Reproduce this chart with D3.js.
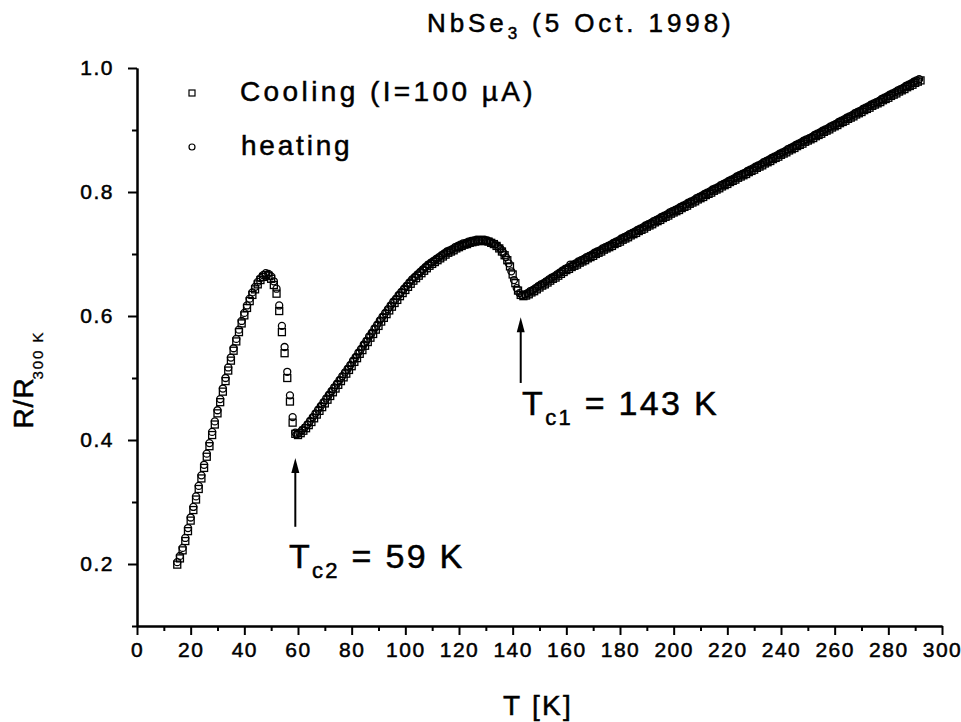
<!DOCTYPE html>
<html>
<head>
<meta charset="utf-8">
<script src="https://cdn.jsdelivr.net/npm/d3@7"></script>
<style>
  body { margin: 0; background: #fff; }
  svg text { font-family: 'Liberation Sans', Arial, sans-serif; fill: #000; stroke: #000; stroke-width: 0.5px; }
</style>
</head>
<body>
<svg id="chart" width="961" height="722"></svg>
<script>
// Cooling run temperatures (K)
const coolingT = [
  15,16,17,18,19,20,21,22,23,24, 25,26,27,28,29,30,31,32,33,34,
  35,36,37,38,39,40,41,42,43,44, 45,46,47,48,49,50,51,52,53,54,
  55,56,57,58,59,60,61,62,63,64, 65,66,67,68,69,70,71,72,73,74,
  75,76,77,78,79,80,81,82,83,84, 85,86,87,88,89,90,91,92,93,94,
  95,96,97,98,99,100,101,102,103,104, 105,106,107,108,109,110,111,112,113,114,
  115,116,117,118,119,120,121,122,123,124, 125,126,127,128,129,130,131,132,133,134,
  135,136,137,138,139,140,141,142,143,144, 145,146,147,148,149,150,151,152,153,154,
  155,156,157,158,159,160,161,162,163,164, 165,166,167,168,169,170,171,172,173,174,
  175,176,177,178,179,180,181,182,183,184, 185,186,187,188,189,190,191,192,193,194,
  195,196,197,198,199,200,201,202,203,204, 205,206,207,208,209,210,211,212,213,214,
  215,216,217,218,219,220,221,222,223,224, 225,226,227,228,229,230,231,232,233,234,
  235,236,237,238,239,240,241,242,243,244, 245,246,247,248,249,250,251,252,253,254,
  255,256,257,258,259,260,261,262,263,264, 265,266,267,268,269,270,271,272,273,274,
  275,276,277,278,279,280,281,282,283,284, 285,286,287,288,289,290,291,292
];

// R/R300K, cooling run (I = 100 uA)
const coolingR = [
  0.199,0.209,0.222,0.237,0.253,0.270,0.287,0.304,0.321,0.338, 0.355,0.373,0.390,0.408,0.425,0.443,0.461,0.478,0.495,0.512,
  0.528,0.544,0.559,0.574,0.588,0.601,0.613,0.624,0.634,0.643, 0.651,0.658,0.663,0.666,0.665,0.660,0.650,0.636,0.608,0.574,
  0.540,0.500,0.462,0.428,0.410,0.408,0.411,0.415,0.419,0.424, 0.429,0.435,0.441,0.447,0.453,0.459,0.465,0.471,0.477,0.483,
  0.489,0.495,0.501,0.507,0.513,0.519,0.526,0.532,0.539,0.545, 0.552,0.558,0.565,0.571,0.578,0.584,0.591,0.597,0.603,0.609,
  0.615,0.621,0.626,0.632,0.637,0.642,0.647,0.652,0.657,0.661, 0.665,0.669,0.673,0.677,0.681,0.684,0.687,0.690,0.693,0.696,
  0.699,0.702,0.704,0.706,0.709,0.711,0.713,0.715,0.716,0.718, 0.719,0.720,0.721,0.721,0.721,0.721,0.720,0.718,0.716,0.713,
  0.709,0.704,0.698,0.690,0.680,0.667,0.653,0.641,0.634,0.632, 0.633,0.635,0.638,0.640,0.643,0.646,0.649,0.651,0.654,0.657,
  0.660,0.662,0.665,0.668,0.671,0.674,0.676,0.679,0.681,0.683, 0.686,0.688,0.690,0.693,0.695,0.697,0.700,0.702,0.704,0.707,
  0.709,0.711,0.713,0.716,0.718,0.720,0.723,0.725,0.727,0.730, 0.732,0.734,0.737,0.739,0.741,0.744,0.746,0.748,0.751,0.753,
  0.755,0.758,0.760,0.762,0.765,0.767,0.769,0.771,0.774,0.776, 0.778,0.781,0.783,0.785,0.788,0.790,0.792,0.795,0.797,0.799,
  0.802,0.804,0.806,0.809,0.811,0.813,0.816,0.818,0.820,0.823, 0.825,0.827,0.829,0.832,0.834,0.836,0.839,0.841,0.843,0.846,
  0.848,0.850,0.853,0.855,0.857,0.860,0.862,0.864,0.867,0.869, 0.871,0.874,0.876,0.878,0.881,0.883,0.885,0.887,0.890,0.892,
  0.894,0.897,0.899,0.901,0.904,0.906,0.908,0.911,0.913,0.915, 0.918,0.920,0.922,0.925,0.927,0.929,0.932,0.934,0.936,0.939,
  0.941,0.943,0.945,0.948,0.950,0.952,0.955,0.957,0.959,0.962, 0.964,0.966,0.969,0.971,0.973,0.976,0.978,0.980
];

// Heating run temperatures (K): same grid below Tc2, half-step offset above
const heatingT = [
  15,16,17,18,19,20,21,22,23,24, 25,26,27,28,29,30,31,32,33,34,
  35,36,37,38,39,40,41,42,43,44, 45,46,47,48,49,50,51,52,53,54,
  55,56,57,58,59,59.5,60.5,61.5,62.5,63.5, 64.5,65.5,66.5,67.5,68.5,69.5,70.5,71.5,72.5,73.5,
  74.5,75.5,76.5,77.5,78.5,79.5,80.5,81.5,82.5,83.5, 84.5,85.5,86.5,87.5,88.5,89.5,90.5,91.5,92.5,93.5,
  94.5,95.5,96.5,97.5,98.5,99.5,100.5,101.5,102.5,103.5, 104.5,105.5,106.5,107.5,108.5,109.5,110.5,111.5,112.5,113.5,
  114.5,115.5,116.5,117.5,118.5,119.5,120.5,121.5,122.5,123.5, 124.5,125.5,126.5,127.5,128.5,129.5,130.5,131.5,132.5,133.5,
  134.5,135.5,136.5,137.5,138.5,139.5,140.5,141.5,142.5,143.5, 144.5,145.5,146.5,147.5,148.5,149.5,150.5,151.5,152.5,153.5,
  154.5,155.5,156.5,157.5,158.5,159.5,160.5,161.5,162.5,163.5, 164.5,165.5,166.5,167.5,168.5,169.5,170.5,171.5,172.5,173.5,
  174.5,175.5,176.5,177.5,178.5,179.5,180.5,181.5,182.5,183.5, 184.5,185.5,186.5,187.5,188.5,189.5,190.5,191.5,192.5,193.5,
  194.5,195.5,196.5,197.5,198.5,199.5,200.5,201.5,202.5,203.5, 204.5,205.5,206.5,207.5,208.5,209.5,210.5,211.5,212.5,213.5,
  214.5,215.5,216.5,217.5,218.5,219.5,220.5,221.5,222.5,223.5, 224.5,225.5,226.5,227.5,228.5,229.5,230.5,231.5,232.5,233.5,
  234.5,235.5,236.5,237.5,238.5,239.5,240.5,241.5,242.5,243.5, 244.5,245.5,246.5,247.5,248.5,249.5,250.5,251.5,252.5,253.5,
  254.5,255.5,256.5,257.5,258.5,259.5,260.5,261.5,262.5,263.5, 264.5,265.5,266.5,267.5,268.5,269.5,270.5,271.5,272.5,273.5,
  274.5,275.5,276.5,277.5,278.5,279.5,280.5,281.5,282.5,283.5, 284.5,285.5,286.5,287.5,288.5,289.5,290.5,291.5
];

// R/R300K, heating run
const heatingR = [
  0.203,0.213,0.226,0.242,0.258,0.275,0.292,0.309,0.326,0.343, 0.360,0.378,0.395,0.413,0.430,0.448,0.466,0.483,0.500,0.517,
  0.533,0.548,0.563,0.578,0.592,0.605,0.617,0.628,0.638,0.647, 0.655,0.661,0.666,0.669,0.668,0.664,0.656,0.644,0.617,0.584,
  0.550,0.510,0.472,0.437,0.412,0.409,0.412,0.416,0.420,0.425, 0.431,0.437,0.443,0.449,0.455,0.461,0.467,0.473,0.479,0.485,
  0.491,0.497,0.503,0.509,0.515,0.521,0.528,0.534,0.541,0.547, 0.554,0.560,0.567,0.573,0.580,0.586,0.593,0.599,0.605,0.611,
  0.617,0.623,0.628,0.634,0.639,0.644,0.649,0.654,0.659,0.663, 0.667,0.671,0.675,0.679,0.683,0.686,0.689,0.692,0.695,0.698,
  0.701,0.704,0.706,0.708,0.711,0.713,0.715,0.717,0.718,0.720, 0.721,0.722,0.723,0.723,0.723,0.723,0.722,0.720,0.718,0.716,
  0.712,0.708,0.702,0.695,0.685,0.672,0.658,0.645,0.637,0.634, 0.635,0.637,0.640,0.642,0.645,0.648,0.651,0.653,0.656,0.659,
  0.662,0.664,0.667,0.670,0.673,0.676,0.678,0.683,0.683,0.685, 0.688,0.690,0.692,0.695,0.697,0.699,0.702,0.704,0.706,0.709,
  0.711,0.713,0.715,0.718,0.720,0.722,0.725,0.727,0.729,0.732, 0.734,0.736,0.739,0.741,0.743,0.746,0.748,0.750,0.753,0.755,
  0.757,0.760,0.762,0.764,0.767,0.769,0.771,0.773,0.776,0.778, 0.780,0.783,0.785,0.787,0.790,0.792,0.794,0.797,0.799,0.801,
  0.804,0.806,0.808,0.811,0.813,0.815,0.818,0.820,0.822,0.825, 0.827,0.829,0.831,0.834,0.836,0.838,0.841,0.843,0.845,0.848,
  0.850,0.852,0.855,0.857,0.859,0.862,0.864,0.866,0.869,0.871, 0.873,0.876,0.878,0.880,0.883,0.885,0.887,0.889,0.892,0.894,
  0.896,0.899,0.901,0.903,0.906,0.908,0.910,0.913,0.915,0.917, 0.920,0.922,0.924,0.927,0.929,0.931,0.934,0.936,0.938,0.941,
  0.943,0.945,0.947,0.950,0.952,0.954,0.957,0.959,0.961,0.964, 0.966,0.968,0.971,0.973,0.975,0.978,0.980,0.982
];

const xMajorTicks = [0,20,40,60,80,100,120,140,160,180,200,220,240,260,280,300];
const xMinorTicks = [10,30,50,70,90,110,130,150,170,190,210,230,250,270,290];
const yMajorTicks = [0.2,0.4,0.6,0.8,1.0];
const yMinorTicks = [0.1,0.3,0.5,0.7,0.9];

// transition markers: T, arrow tail / tip in R units, label anchor
const transitions = [
  { t: 59,  tail: 0.260, tip: 0.371, sub: "c2", rest: " = 59 K",  lx: 56.6,  ly: 0.194 },
  { t: 143, tail: 0.492, tip: 0.598, sub: "c1", rest: " = 143 K", lx: 143.5, ly: 0.440 }
];

const svg = d3.select("#chart");
const x = d3.scaleLinear().domain([0, 300]).range([137, 942]);
const y = d3.scaleLinear().domain([0.1, 1.0]).range([626, 68]);

// axes: minor ticks first, then major with labels
function styleAxis(g) {
  g.select(".domain").attr("stroke", "#000").attr("stroke-width", 2);
  g.selectAll(".tick line").attr("stroke", "#000").attr("stroke-width", 2);
  g.selectAll(".tick text")
    .style("font-size", "21px")
    .style("letter-spacing", "1.5px")
    .attr("fill", "#000");
}

svg.append("g")
  .attr("transform", `translate(0,${y(0.1)})`)
  .call(d3.axisBottom(x).tickValues(xMinorTicks).tickSize(5).tickSizeOuter(0).tickFormat(""))
  .call(styleAxis);
svg.append("g")
  .attr("transform", `translate(0,${y(0.1)})`)
  .call(d3.axisBottom(x).tickValues(xMajorTicks).tickSize(9).tickSizeOuter(0).tickPadding(7))
  .call(styleAxis);

svg.append("g")
  .attr("transform", `translate(${x(0)},0)`)
  .call(d3.axisLeft(y).tickValues(yMinorTicks).tickSize(5).tickSizeOuter(0).tickFormat(""))
  .call(styleAxis);
svg.append("g")
  .attr("transform", `translate(${x(0)},0)`)
  .call(d3.axisLeft(y).tickValues(yMajorTicks).tickSize(9).tickSizeOuter(0).tickPadding(14).tickFormat(d3.format(".1f")))
  .call(styleAxis);

// data points: heating circles under cooling squares
const plot = svg.append("g");
const SQ = 7;
const MARK_W = 1.3;

plot.selectAll("circle.heat")
  .data(heatingT.map((t, i) => [t, heatingR[i]]))
  .join("circle")
  .attr("class", "heat")
  .attr("cx", d => x(d[0]))
  .attr("cy", d => y(d[1]))
  .attr("r", 3.5)
  .attr("fill", "none")
  .attr("stroke", "#000")
  .attr("stroke-width", MARK_W);

plot.selectAll("rect.cool")
  .data(coolingT.map((t, i) => [t, coolingR[i]]))
  .join("rect")
  .attr("class", "cool")
  .attr("x", d => x(d[0]) - SQ / 2)
  .attr("y", d => y(d[1]) - SQ / 2)
  .attr("width", SQ)
  .attr("height", SQ)
  .attr("fill", "none")
  .attr("stroke", "#000")
  .attr("stroke-width", MARK_W);

// legend
const legend = svg.append("g");
legend.append("rect")
  .attr("x", 192 - 3).attr("y", 93 - 3).attr("width", 6).attr("height", 6)
  .attr("fill", "none").attr("stroke", "#000").attr("stroke-width", 1.2);
legend.append("circle")
  .attr("cx", 192).attr("cy", 147).attr("r", 3)
  .attr("fill", "none").attr("stroke", "#000").attr("stroke-width", 1.2);
legend.append("text").attr("x", 240).attr("y", 101)
  .style("font-size", "28px").style("letter-spacing", "3.4px")
  .text("Cooling (I=100 \u00b5A)");
legend.append("text").attr("x", 241).attr("y", 155)
  .style("font-size", "28px").style("letter-spacing", "2.8px")
  .text("heating");

// title
const title = svg.append("text").attr("x", 427).attr("y", 32)
  .style("font-size", "26px").style("letter-spacing", "3.9px");
title.append("tspan").text("NbSe");
title.append("tspan").attr("dy", 7).style("font-size", "17px").text("3");
title.append("tspan").attr("dy", -7).text(" (5 Oct. 1998)");

// axis titles
svg.append("text")
  .attr("x", 538).attr("y", 715)
  .attr("text-anchor", "middle")
  .style("font-size", "28px").style("letter-spacing", "2.3px")
  .text("T [K]");

svg.append("text")
  .attr("transform", "translate(33,403) rotate(-90)")
  .attr("text-anchor", "middle")
  .style("font-size", "28px").style("letter-spacing", "1px")
  .text("R/R");
svg.append("text")
  .attr("transform", "translate(43,355) rotate(-90)")
  .attr("text-anchor", "middle")
  .style("font-size", "15px").style("letter-spacing", "2px")
  .style("stroke-width", "0.3px")
  .text("300 K");

// transition arrows and labels
const ann = svg.append("g");
transitions.forEach(tr => {
  const ax = x(tr.t);
  const yTip = y(tr.tip);
  ann.append("line")
    .attr("x1", ax).attr("x2", ax)
    .attr("y1", y(tr.tail)).attr("y2", yTip + 10)
    .attr("stroke", "#000").attr("stroke-width", 2);
  ann.append("path")
    .attr("d", `M${ax},${yTip}L${ax - 4},${yTip + 15}L${ax + 4},${yTip + 15}Z`)
    .attr("fill", "#000");
  const label = ann.append("text")
    .attr("x", x(tr.lx)).attr("y", y(tr.ly))
    .style("font-size", "34px").style("letter-spacing", "2.3px");
  label.append("tspan").text("T");
  label.append("tspan").attr("dy", 10).style("font-size", "22px").text(tr.sub);
  label.append("tspan").attr("dy", -10).text(tr.rest);
});
</script>
</body>
</html>
